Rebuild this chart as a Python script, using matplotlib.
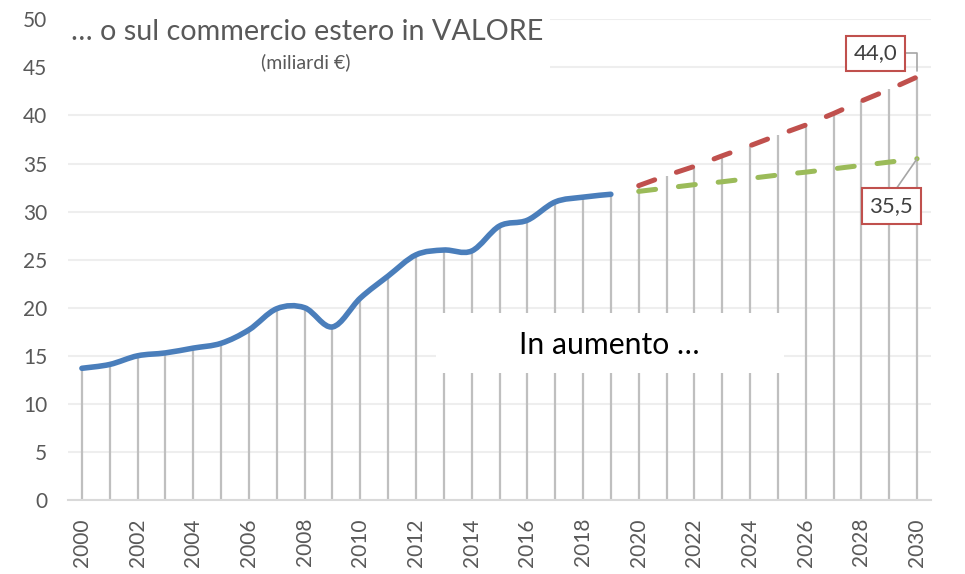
import matplotlib
matplotlib.use("Agg")
import matplotlib.pyplot as plt
from matplotlib.path import Path
from matplotlib.patches import PathPatch, Rectangle
import numpy as np

plt.rcParams['font.family'] = ['Lato', 'DejaVu Sans']

# Dati (miliardi di euro)
anni_storici = list(range(2000, 2020))
valore_storico = [13.7, 14.1, 15.0, 15.3, 15.8, 16.3, 17.7, 19.9, 20.0, 18.0,
                  21.0, 23.3, 25.5, 26.0, 25.9, 28.5, 29.1, 31.0, 31.5, 31.8]
anni_prev = list(range(2020, 2031))
prev_alta = [32.7, 33.75, 34.7, 35.8, 36.85, 37.95, 39.0, 40.2, 41.5, 42.7, 44.0]
prev_bassa = [32.1, 32.45, 32.8, 33.1, 33.45, 33.8, 34.1, 34.45, 34.8, 35.15, 35.5]
tick_anni = list(range(2000, 2031, 2))
tick_valori = list(range(0, 51, 5))

BLU = '#4A7EBB'
ROSSO = '#C0504D'
VERDE = '#9BBB59'
GRIGIO = '#595959'


def percorso_liscio(xs, ys):
    # curva di Bezier tipo "linea smussata" di Excel
    pts = np.column_stack([xs, ys]).astype(float)
    n = len(pts)
    verts = [pts[0]]
    codes = [Path.MOVETO]
    for i in range(n - 1):
        p0 = pts[max(i - 1, 0)]
        p1 = pts[i]
        p2 = pts[i + 1]
        p3 = pts[min(i + 2, n - 1)]
        verts += [p1 + (p2 - p0) / 6, p2 - (p3 - p1) / 6, p2]
        codes += [Path.CURVE4] * 3
    return Path(verts, codes)


fig = plt.figure(figsize=(9.65, 5.74), dpi=100)
ax = fig.add_axes([0.07047, 0.12892, 0.89430, 0.83746])

ax.set_xlim(1999.5, 2030.5)
ax.set_ylim(0, 50)

# griglia orizzontale
ax.set_axisbelow(True)
ax.yaxis.grid(True, color='#EEEEEE', lw=1.5)

# linee di proiezione (drop lines)
tutti_anni = anni_storici + anni_prev
altezze = valore_storico + prev_alta
ax.vlines(tutti_anni, 0, altezze, color='#BFBFBF', lw=1.6, zorder=1)

# riquadri bianchi
ax.add_patch(Rectangle((0, 0.8737), 0.5585, 0.2, transform=ax.transAxes,
                       fc='white', ec='none', zorder=1.5, clip_on=False))
ax.add_patch(Rectangle((2012.72, 13.21), 12.5, 6.24, fc='white', ec='none', zorder=1.5))

# serie
ax.add_patch(PathPatch(percorso_liscio(anni_storici, valore_storico), fill=False,
                       ec=BLU, lw=4.0, capstyle='round', joinstyle='round', zorder=3))
ax.plot(anni_prev, prev_alta, color=ROSSO, lw=3.6, dashes=(3.4, 4.6),
        dash_capstyle='round', zorder=3)
ax.plot(anni_prev, prev_bassa, color=VERDE, lw=3.6, dashes=(3.4, 4.6),
        dash_capstyle='round', zorder=3)

# assi
for s in ['top', 'right', 'left']:
    ax.spines[s].set_visible(False)
ax.spines['bottom'].set_color('#D9D9D9')
ax.spines['bottom'].set_linewidth(1.5)
ax.set_xticks(tick_anni)
ax.set_xticklabels([str(a) for a in tick_anni], rotation=90)
ax.set_yticks(tick_valori)
ax.tick_params(axis='x', length=0, pad=13, labelsize=15, labelcolor=GRIGIO)
ax.tick_params(axis='y', length=0, pad=15, labelsize=15, labelcolor=GRIGIO)

# etichette dati
box = dict(boxstyle='square,pad=0.35', fc='white', ec=ROSSO, lw=1.5)
ax.annotate('44,0', xy=(anni_prev[-1], prev_alta[-1]), xytext=(2028.5, 46.46),
            ha='center', va='center', fontsize=16, color='#404040', bbox=box,
            arrowprops=dict(arrowstyle='-', color='#A6A6A6', lw=1.2, relpos=(1, 0.5),
                            connectionstyle='angle,angleA=0,angleB=90,rad=0',
                            shrinkA=0, shrinkB=4), zorder=4)
ax.annotate('35,5', xy=(anni_prev[-1], prev_bassa[-1]), xytext=(2029.07, 30.58),
            ha='center', va='center', fontsize=16, color='#404040', bbox=box,
            arrowprops=dict(arrowstyle='-', color='#A6A6A6', lw=1.2, relpos=(0.5, 1),
                            shrinkA=0, shrinkB=0), zorder=4)

# testi
ax.text(2018.95, 15.19, 'In aumento …', ha='center', va='baseline',
        fontsize=21.7, color='black', zorder=4)
fig.text(70.7 / 965, 1 - 40 / 574, '… o sul commercio estero in VALORE',
         ha='left', va='baseline', fontsize=20.7, color=GRIGIO)
fig.text(306 / 965, 1 - 68 / 574, '(miliardi €)', ha='center', va='baseline',
         fontsize=14, color=GRIGIO)

fig.savefig('out.png', dpi=100)
